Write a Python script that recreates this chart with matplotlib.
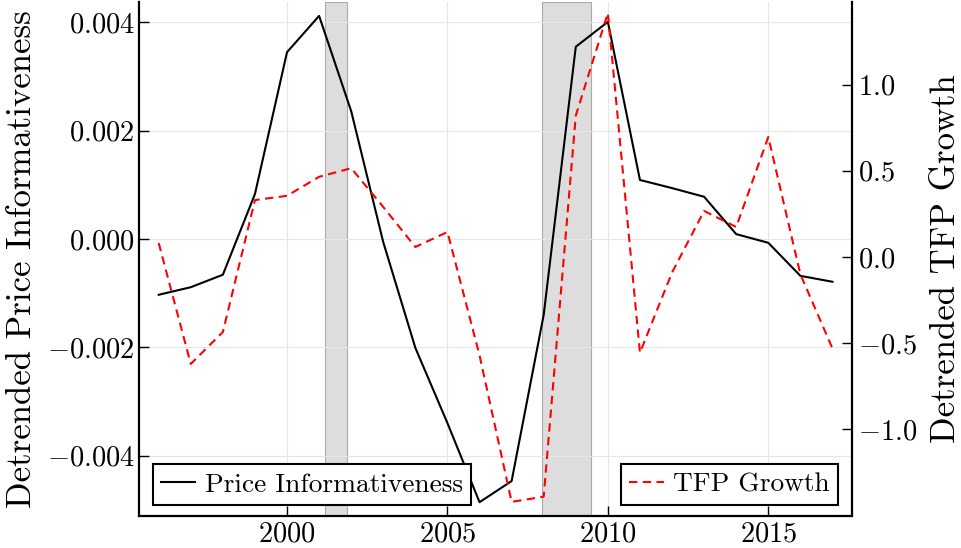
import numpy as np
import matplotlib
matplotlib.use("Agg")
import matplotlib.pyplot as plt
from matplotlib.ticker import FixedLocator, FuncFormatter

plt.rcParams['font.family'] = 'serif'
plt.rcParams['font.serif'] = ['cmr10']
plt.rcParams['mathtext.fontset'] = 'cm'
plt.rcParams['axes.unicode_minus'] = False

years = list(range(1996, 2018))
price_info = [-0.00103, -0.00089, -0.00066, 0.00083, 0.00345, 0.00412,
              0.00236, -0.00006, -0.00201, -0.00340, -0.00486, -0.00447,
              -0.00140, 0.00355, 0.00401, 0.00109, 0.00094, 0.00078,
              0.00009, -0.00007, -0.00068, -0.00079]
tfp_growth = [0.081, -0.62, -0.435, 0.33, 0.355, 0.465, 0.515, 0.29,
              0.058, 0.145, -0.57, -1.42, -1.39, 0.82, 1.415, -0.555,
              -0.09, 0.267, 0.174, 0.696, -0.10, -0.53]
recessions = [(2001.17, 2001.86), (2007.95, 2009.46)]

left_ticks = [-0.004, -0.002, 0.0, 0.002, 0.004]
right_ticks = [-1.0, -0.5, 0.0, 0.5, 1.0]
x_ticks = [2000, 2005, 2010, 2015]

fig = plt.figure(figsize=(9.61, 5.48), dpi=100)
ax = fig.add_axes([0.1446, 0.0584, 0.742, 0.938])
ax2 = ax.twinx()

for a, b in recessions:
    ax.axvspan(a, b, facecolor='#dddddd', edgecolor='#aaaaaa', lw=0.8, zorder=0)

line1, = ax.plot(years, price_info, color='black', lw=1.5, zorder=3)
line2, = ax2.plot(years, tfp_growth, color='red', lw=1.5, ls=(0, (4, 2.6)), zorder=3)

ax.set_xlim(1995.385, 2017.61)
ax.set_ylim(-0.005115, 0.004377)
ax2.set_ylim(-1.502, 1.479)

ax.xaxis.set_major_locator(FixedLocator(x_ticks))
ax.yaxis.set_major_locator(FixedLocator(left_ticks))
ax2.yaxis.set_major_locator(FixedLocator(right_ticks))
ax.yaxis.set_major_formatter(FuncFormatter(lambda v, p: "$%.3f$" % v if abs(v) > 1e-9 else "$0.000$"))
ax2.yaxis.set_major_formatter(FuncFormatter(lambda v, p: "$%.1f$" % v if abs(v) > 1e-9 else "$0.0$"))
ax.xaxis.set_major_formatter(FuncFormatter(lambda v, p: "$%d$" % v))

ax.grid(True, color='#e6e6e6', lw=0.8)
ax.set_axisbelow(True)

for a in (ax, ax2):
    a.spines['top'].set_visible(False)
    for s in ('left', 'bottom', 'right'):
        a.spines[s].set_linewidth(1.6)
    a.tick_params(direction='in', length=7, width=1.0, labelsize=20.5)
ax.spines['right'].set_visible(False)
ax2.spines['left'].set_visible(False)
ax2.spines['bottom'].set_visible(False)
ax.tick_params(axis='x', pad=4)
ax.tick_params(axis='y', pad=3)
ax2.tick_params(axis='y', pad=4)

ax.set_ylabel("Detrended Price Informativeness", fontsize=25, labelpad=6)
ax2.set_ylabel("Detrended TFP Growth", fontsize=25, labelpad=10)

leg1 = ax2.legend([line1], ["Price Informativeness"], loc='lower left',
                  bbox_to_anchor=(0.0196, 0.0214), borderaxespad=0, fontsize=19.7,
                  fancybox=False, edgecolor='black', framealpha=1,
                  handlelength=1.25, borderpad=0.3, handletextpad=0.35)
leg1.get_frame().set_linewidth(1.5)
ax2.add_artist(leg1)
leg2 = ax2.legend([line2], ["TFP Growth"], loc='lower right',
                  bbox_to_anchor=(0.9804, 0.0214), borderaxespad=0, fontsize=19.7,
                  fancybox=False, edgecolor='black', framealpha=1,
                  handlelength=1.25, borderpad=0.3, handletextpad=0.35)
leg2.get_frame().set_linewidth(1.5)

fig.savefig("out.png", dpi=100)
